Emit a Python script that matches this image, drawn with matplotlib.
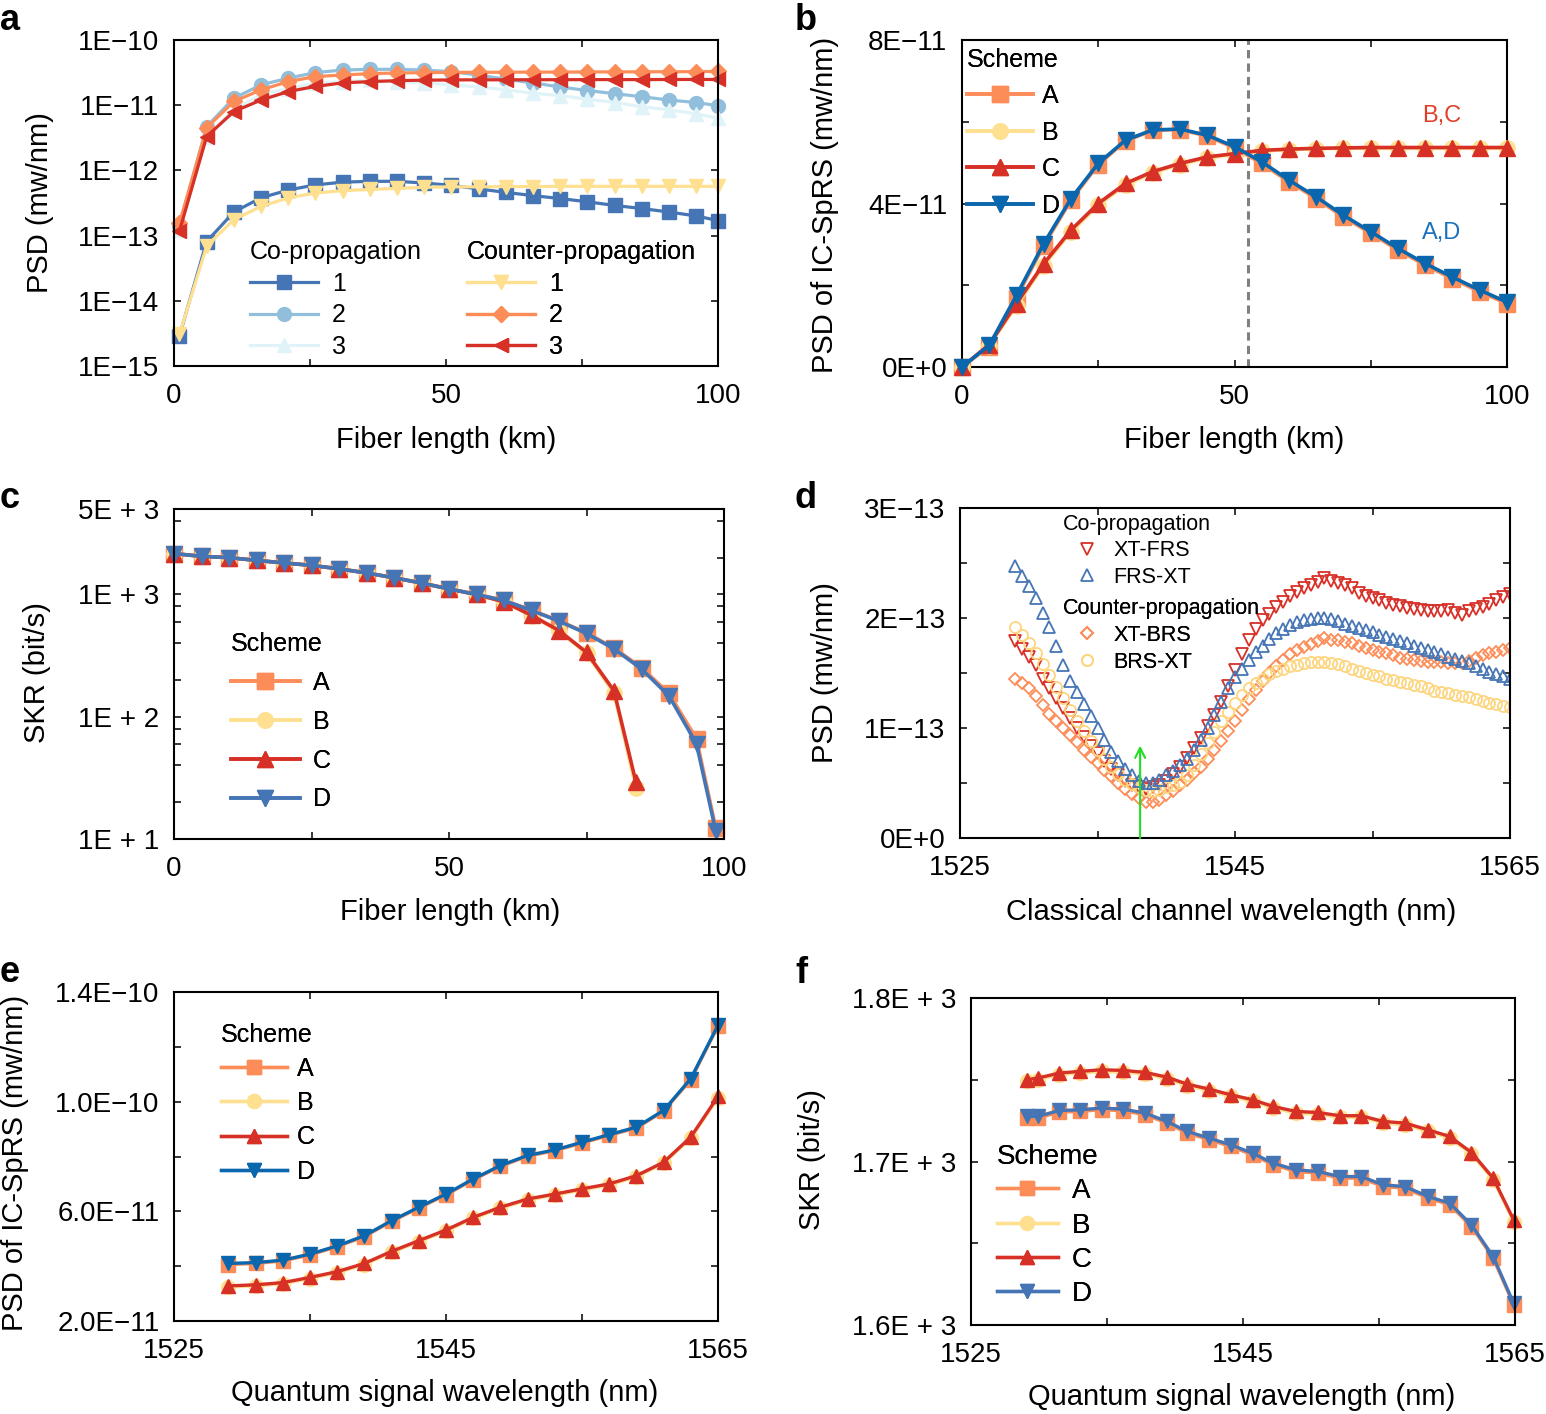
import numpy as np
import matplotlib
matplotlib.use('Agg')
import matplotlib.pyplot as plt
from matplotlib.lines import Line2D
from matplotlib.ticker import FixedLocator, NullLocator, NullFormatter

plt.rcParams['font.family'] = ['Liberation Sans', 'DejaVu Sans']

# ---------------- data ----------------
# panel a (fiber length km, PSD mw/nm)
a_x = [1, 6, 11, 16, 21, 26, 31, 36, 41, 46, 51, 56, 61, 66, 71, 76, 81, 86, 91, 96, 100]
a_co1 = [2.9e-15, 8.1e-14, 2.3e-13, 3.8e-13, 5.0e-13, 6.0e-13, 6.6e-13, 6.8e-13, 6.8e-13, 6.4e-13, 5.9e-13,
         5.2e-13, 4.6e-13, 4.1e-13, 3.7e-13, 3.3e-13, 2.9e-13, 2.6e-13, 2.3e-13, 2.0e-13, 1.7e-13]
a_co2 = [1.4e-13, 4.7e-12, 1.28e-11, 2.05e-11, 2.6e-11, 3.16e-11, 3.46e-11, 3.55e-11, 3.55e-11, 3.46e-11, 3.27e-11,
         2.9e-11, 2.5e-11, 2.2e-11, 1.9e-11, 1.68e-11, 1.5e-11, 1.35e-11, 1.2e-11, 1.1e-11, 9.8e-12]
a_co3 = [1.23e-13, 3.3e-12, 8.5e-12, 1.45e-11, 1.8e-11, 2.2e-11, 2.3e-11, 2.4e-11, 2.3e-11, 2.2e-11, 2.05e-11,
         1.9e-11, 1.72e-11, 1.53e-11, 1.4e-11, 1.24e-11, 1.1e-11, 9.5e-12, 8.5e-12, 7.4e-12, 6.3e-12]
a_ct1 = [3.05e-15, 6.9e-14, 1.76e-13, 2.8e-13, 3.8e-13, 4.5e-13, 4.9e-13, 5.1e-13, 5.3e-13, 5.5e-13, 5.6e-13,
         5.6e-13, 5.65e-13, 5.65e-13, 5.7e-13, 5.7e-13, 5.7e-13, 5.7e-13, 5.7e-13, 5.7e-13, 5.7e-13]
a_ct2 = [1.55e-13, 4.5e-12, 1.14e-11, 1.72e-11, 2.3e-11, 2.75e-11, 2.9e-11, 3.05e-11, 3.12e-11, 3.16e-11, 3.18e-11,
         3.2e-11, 3.2e-11, 3.22e-11, 3.22e-11, 3.24e-11, 3.24e-11, 3.25e-11, 3.26e-11, 3.27e-11, 3.3e-11]
a_ct3 = [1.17e-13, 3.3e-12, 8.0e-12, 1.2e-11, 1.62e-11, 1.94e-11, 2.2e-11, 2.3e-11, 2.38e-11, 2.42e-11, 2.44e-11,
         2.45e-11, 2.45e-11, 2.46e-11, 2.46e-11, 2.47e-11, 2.47e-11, 2.47e-11, 2.48e-11, 2.48e-11, 2.48e-11]

# panel b (fiber length km, PSD of IC-SpRS)
b_x = [0, 5, 10, 15, 20, 25, 30, 35, 40, 45, 50, 55, 60, 65, 70, 75, 80, 85, 90, 95, 100]
b_A = [0, 0.50e-11, 1.70e-11, 2.97e-11, 4.08e-11, 4.95e-11, 5.53e-11, 5.79e-11, 5.81e-11, 5.65e-11, 5.36e-11,
       4.98e-11, 4.53e-11, 4.12e-11, 3.67e-11, 3.27e-11, 2.86e-11, 2.49e-11, 2.16e-11, 1.84e-11, 1.55e-11]
b_B = [0, 0.52e-11, 1.50e-11, 2.48e-11, 3.30e-11, 3.96e-11, 4.45e-11, 4.75e-11, 4.95e-11, 5.11e-11, 5.20e-11,
       5.28e-11, 5.32e-11, 5.34e-11, 5.35e-11, 5.35e-11, 5.35e-11, 5.35e-11, 5.35e-11, 5.35e-11, 5.35e-11]
b_C = [0, 0.55e-11, 1.55e-11, 2.53e-11, 3.35e-11, 4.00e-11, 4.49e-11, 4.78e-11, 4.98e-11, 5.14e-11, 5.22e-11,
       5.30e-11, 5.33e-11, 5.35e-11, 5.36e-11, 5.37e-11, 5.37e-11, 5.37e-11, 5.37e-11, 5.37e-11, 5.37e-11]
b_D = [0, 0.53e-11, 1.755e-11, 3.02e-11, 4.12e-11, 4.98e-11, 5.55e-11, 5.80e-11, 5.82e-11, 5.67e-11, 5.39e-11,
       5.02e-11, 4.57e-11, 4.16e-11, 3.71e-11, 3.31e-11, 2.90e-11, 2.53e-11, 2.20e-11, 1.88e-11, 1.59e-11]
b_cross = 52.5

# panel c (fiber length km, SKR bit/s)
c_xAD = [0, 5, 10, 15, 20, 25, 30, 35, 40, 45, 50, 55, 60, 65, 70, 75, 80, 85, 90, 95, 98.5]
c_A = [2160, 2050, 2000, 1900, 1810, 1730, 1620, 1500, 1370, 1240, 1110, 1000, 895, 745, 610, 485, 365, 252, 155, 66, 12.3]
c_D = [2160, 2050, 2000, 1900, 1810, 1730, 1620, 1500, 1370, 1240, 1110, 1000, 893, 740, 605, 480, 359, 246, 148, 60, 11.6]
c_xBC = [0, 5, 10, 15, 20, 25, 30, 35, 40, 45, 50, 55, 60, 65, 70, 75, 80, 84]
c_B = [2160, 2050, 2000, 1900, 1810, 1730, 1620, 1500, 1370, 1240, 1110, 1000, 865, 668, 500, 330, 155, 26]
c_C = [2160, 2050, 2000, 1900, 1810, 1730, 1620, 1500, 1370, 1240, 1110, 1000, 870, 675, 507, 336, 163, 29]

# panel d (classical channel wavelength nm, PSD in units of 1E-13 mw/nm)
d_x = [1529.0 + 0.5 * i for i in range(73)]
d_xt_frs = [1.79, 1.72, 1.65, 1.57, 1.45, 1.36, 1.27, 1.18, 1.09, 1.00, 0.92, 0.84, 0.77, 0.70, 0.63, 0.57, 0.52,
            0.48, 0.46, 0.45, 0.46, 0.48, 0.52, 0.58, 0.65, 0.73, 0.82, 0.91, 1.02, 1.12, 1.24, 1.38, 1.53, 1.67,
            1.80, 1.90, 1.98, 2.04, 2.10, 2.15, 2.20, 2.24, 2.27, 2.30, 2.33, 2.36, 2.34, 2.32, 2.30, 2.27, 2.23,
            2.20, 2.18, 2.16, 2.14, 2.12, 2.11, 2.09, 2.08, 2.07, 2.06, 2.06, 2.06, 2.07, 2.05, 2.03, 2.06, 2.08,
            2.10, 2.13, 2.16, 2.19, 2.22]
d_frs_xt = [2.47, 2.38, 2.29, 2.18, 2.05, 1.92, 1.75, 1.57, 1.43, 1.33, 1.22, 1.11, 1.00, 0.89, 0.78, 0.70, 0.63,
            0.57, 0.52, 0.50, 0.50, 0.53, 0.57, 0.61, 0.66, 0.72, 0.80, 0.89, 1.00, 1.12, 1.24, 1.36, 1.46, 1.54,
            1.62, 1.69, 1.75, 1.81, 1.86, 1.90, 1.94, 1.96, 1.98, 1.99, 2.00, 2.00, 1.99, 1.97, 1.95, 1.93, 1.91,
            1.89, 1.87, 1.85, 1.83, 1.81, 1.79, 1.77, 1.75, 1.73, 1.71, 1.69, 1.67, 1.65, 1.63, 1.61, 1.59, 1.56,
            1.54, 1.51, 1.49, 1.47, 1.45]
d_xt_brs = [1.45, 1.41, 1.36, 1.29, 1.21, 1.13, 1.06, 1.00, 0.94, 0.87, 0.80, 0.74, 0.68, 0.62, 0.56, 0.50, 0.45,
            0.40, 0.36, 0.33, 0.33, 0.35, 0.39, 0.43, 0.48, 0.53, 0.59, 0.65, 0.72, 0.80, 0.88, 0.97, 1.06, 1.16,
            1.26, 1.35, 1.43, 1.50, 1.56, 1.62, 1.67, 1.71, 1.74, 1.76, 1.79, 1.82, 1.80, 1.80, 1.78, 1.77, 1.75,
            1.73, 1.71, 1.69, 1.68, 1.66, 1.64, 1.63, 1.62, 1.61, 1.60, 1.60, 1.60, 1.59, 1.59, 1.59, 1.61, 1.64,
            1.66, 1.68, 1.69, 1.71, 1.73]
d_brs_xt = [1.92, 1.85, 1.77, 1.68, 1.58, 1.48, 1.37, 1.27, 1.16, 1.06, 0.97, 0.88, 0.80, 0.72, 0.65, 0.58, 0.53,
            0.49, 0.46, 0.44, 0.43, 0.44, 0.46, 0.48, 0.51, 0.57, 0.66, 0.76, 0.86, 0.96, 1.06, 1.15, 1.23, 1.30,
            1.36, 1.41, 1.45, 1.49, 1.52, 1.54, 1.56, 1.57, 1.59, 1.60, 1.60, 1.60, 1.59, 1.58, 1.56, 1.54, 1.52,
            1.50, 1.48, 1.47, 1.45, 1.44, 1.42, 1.41, 1.39, 1.38, 1.36, 1.34, 1.33, 1.32, 1.30, 1.29, 1.28, 1.26,
            1.25, 1.23, 1.22, 1.20, 1.19]
d_arrow_x = 1538.1
d_arrow_top = 0.84

# panel e (quantum signal wavelength nm, PSD of IC-SpRS)
e_x = [1529, 1531, 1533, 1535, 1537, 1539, 1541, 1543, 1545, 1547, 1549, 1551, 1553, 1555, 1557, 1559, 1561, 1563, 1565]
e_D = [4.10e-11, 4.13e-11, 4.22e-11, 4.44e-11, 4.74e-11, 5.11e-11, 5.66e-11, 6.15e-11, 6.63e-11, 7.18e-11, 7.67e-11,
       8.04e-11, 8.24e-11, 8.52e-11, 8.80e-11, 9.07e-11, 9.68e-11, 10.84e-11, 12.79e-11]
e_A = [4.06e-11, 4.10e-11, 4.19e-11, 4.41e-11, 4.71e-11, 5.08e-11, 5.63e-11, 6.12e-11, 6.60e-11, 7.15e-11, 7.64e-11,
       8.01e-11, 8.21e-11, 8.49e-11, 8.77e-11, 9.04e-11, 9.65e-11, 10.80e-11, 12.75e-11]
e_C = [3.28e-11, 3.32e-11, 3.40e-11, 3.59e-11, 3.80e-11, 4.10e-11, 4.54e-11, 4.93e-11, 5.32e-11, 5.78e-11, 6.15e-11,
       6.45e-11, 6.63e-11, 6.82e-11, 7.00e-11, 7.30e-11, 7.79e-11, 8.71e-11, 10.19e-11]
e_B = [3.24e-11, 3.28e-11, 3.36e-11, 3.55e-11, 3.76e-11, 4.06e-11, 4.50e-11, 4.89e-11, 5.28e-11, 5.74e-11, 6.11e-11,
       6.41e-11, 6.59e-11, 6.78e-11, 6.96e-11, 7.26e-11, 7.75e-11, 8.66e-11, 10.14e-11]

# panel f (quantum signal wavelength nm, SKR bit/s)
f_x = [1529.1, 1529.9, 1531.5, 1533.0, 1534.6, 1536.2, 1537.8, 1539.4, 1540.9, 1542.5, 1544.1, 1545.7,
       1547.2, 1548.9, 1550.5, 1552.1, 1553.7, 1555.3, 1556.9, 1558.6, 1560.2, 1561.8, 1563.4, 1564.9]
f_C = [1750, 1751, 1754.1, 1755.1, 1756.1, 1755.7, 1754.5, 1751.6, 1747.3, 1744.3, 1740.8, 1737.8,
       1733.7, 1730.6, 1730, 1728, 1728, 1724.5, 1723.5, 1719.4, 1715.3, 1705.5, 1689.8, 1664.3]
f_B = [1749, 1750, 1753.1, 1754.1, 1755.1, 1754.7, 1753.5, 1750.6, 1746.3, 1743.3, 1739.8, 1736.8,
       1732.7, 1729.6, 1729, 1727, 1727, 1723.5, 1722.5, 1718.4, 1714.3, 1704.5, 1688.8, 1663.3]
f_D = [1727.6, 1727.6, 1731.2, 1731.6, 1732.7, 1732.0, 1729.6, 1724.5, 1718.4, 1714.3, 1710.2, 1705.1,
       1699.0, 1694.9, 1693.9, 1690.8, 1690.8, 1685.7, 1684.7, 1678.6, 1674.5, 1661.2, 1641.8, 1613.3]
f_A = [1726.6, 1726.6, 1730.2, 1730.6, 1731.7, 1731.0, 1728.6, 1723.5, 1717.4, 1713.3, 1709.2, 1704.1,
       1698.0, 1693.9, 1692.9, 1689.8, 1689.8, 1684.7, 1683.7, 1677.6, 1673.5, 1660.2, 1640.8, 1612.3]

# ---------------- colours ----------------
RED = '#d73027'
ORG = '#fc8d59'
YEL = '#fee090'
BLU = '#4575b4'
LBL = '#91bfdb'
VLB = '#e0f3f8'
DBL = '#0b67ad'
GRN = '#22dd22'

W, H = 1546, 1414
fig = plt.figure(figsize=(W / 100, H / 100), dpi=100)


def axes_px(l, r, t, b):
    return fig.add_axes([l / W, 1 - b / H, (r - l) / W, (b - t) / H])


def style(ax):
    for s in ax.spines.values():
        s.set_linewidth(1.5)
    ax.tick_params(which='both', direction='in', top=True, right=True, length=5, width=1.1, labelsize=20)
    ax.tick_params(axis='x', which='both', pad=12.5)
    ax.tick_params(axis='y', which='both', pad=10.5)


def leg(ax, handles, labels, title, anchor, fs=18, lsp=0.2, hl=2.7, htp=0.5):
    lg = ax.legend(handles, labels, title=title, loc='upper left', bbox_to_anchor=anchor, frameon=False,
                   fontsize=fs, title_fontsize=fs, labelspacing=lsp, handlelength=hl, handletextpad=htp,
                   borderpad=0, borderaxespad=0, alignment='left', numpoints=1)
    ax.add_artist(lg)
    return lg


def h(color, marker, ms, lw=2.3, mfc=None):
    return Line2D([], [], color=color, lw=lw, marker=marker, ms=ms, mfc=color if mfc is None else mfc, mec=color)


def flabel(x, y, s, rot=0, size=21, **kw):
    fig.text(x / W, 1 - y / H, s, rotation=rot, ha='center', va='center', fontsize=size, **kw)


def letter(x, y, s):
    fig.text(x / W, 1 - y / H, s, ha='left', va='baseline', fontsize=26, fontweight='bold')


# ---------------- panel a ----------------
ax = axes_px(174, 718, 40, 366)
style(ax)
ax.set_yscale('log')
spec_a = [(a_co1, BLU, 's'), (a_co2, LBL, 'o'), (a_co3, VLB, '^'),
          (a_ct1, YEL, 'v'), (a_ct2, ORG, 'D'), (a_ct3, RED, '<')]
for ys, c, m in spec_a:
    ms = 8 if m == 'D' else 10
    ax.plot(a_x, ys, color=c, lw=2.3, marker=m, ms=ms, mfc=c, mec=c, clip_on=False)
ax.set_xlim(0, 100)
ax.set_ylim(1e-15, 1e-10)
ax.set_xticks([0, 50, 100], ['0', '50', '100'])
ax.xaxis.set_minor_locator(FixedLocator([25, 75]))
ax.set_yticks([1e-15, 1e-14, 1e-13, 1e-12, 1e-11, 1e-10],
              ['1E\u221215', '1E\u221214', '1E\u221213', '1E\u221212', '1E\u221211', '1E\u221210'])
ax.yaxis.set_minor_locator(NullLocator())
leg(ax, [h(BLU, 's', 10), h(LBL, 'o', 10), h(VLB, '^', 10)], ['1', '2', '3'], 'Co-propagation',
    (0.14, 0.385), lsp=0.3, hl=2.72, htp=0.56)
leg(ax, [h(YEL, 'v', 10), h(ORG, 'D', 8), h(RED, '<', 10)], ['1', '2', '3'], 'Counter-propagation',
    (0.5386, 0.385), lsp=0.3, hl=2.72, htp=0.56)

# ---------------- panel b ----------------
ax = axes_px(962, 1507, 40, 367)
style(ax)
ax.axvline(b_cross, color='#808080', lw=2.2, ls=(0, (2.7, 1.7)), zorder=1)
for ys, c, m in [(b_A, ORG, 's'), (b_B, YEL, 'o'), (b_C, RED, '^'), (b_D, DBL, 'v')]:
    ax.plot(b_x, ys, color=c, lw=2.6, marker=m, ms=11, mfc=c, mec=c, clip_on=False, zorder=3)
ax.set_xlim(0, 100)
ax.set_ylim(0, 8e-11)
ax.set_xticks([0, 50, 100], ['0', '50', '100'])
ax.xaxis.set_minor_locator(FixedLocator([25, 75]))
ax.set_yticks([0, 4e-11, 8e-11], ['0E+0', '4E\u221211', '8E\u221211'])
ax.yaxis.set_minor_locator(FixedLocator([2e-11, 6e-11]))
ax.text(88, 6.14e-11, 'B,C', color='#e0402a', fontsize=17, ha='center', va='center')
ax.text(88, 3.28e-11, 'A,D', color='#1a72bd', fontsize=17, ha='center', va='center')
leg(ax, [h(ORG, 's', 11, 2.6), h(YEL, 'o', 11, 2.6), h(RED, '^', 11, 2.6), h(DBL, 'v', 11, 2.6)],
    ['A', 'B', 'C', 'D'], 'Scheme', (0.009, 0.977), lsp=0.5, hl=2.64, htp=0.36)

# ---------------- panel c ----------------
ax = axes_px(174, 724, 509, 839)
style(ax)
ax.set_yscale('log')
ax.plot(c_xAD, c_A, color=ORG, lw=2.6, marker='s', ms=11, mfc=ORG, mec=ORG, clip_on=False)
ax.plot(c_xBC, c_B, color=YEL, lw=2.6, marker='o', ms=11, mfc=YEL, mec=YEL, clip_on=False)
ax.plot(c_xBC, c_C, color=RED, lw=2.6, marker='^', ms=12, mfc=RED, mec=RED, clip_on=False)
ax.plot(c_xAD, c_D, color=BLU, lw=2.6, marker='v', ms=12, mfc=BLU, mec=BLU, clip_on=False)
ax.set_xlim(0, 100)
ax.set_ylim(10, 5000)
ax.set_xticks([0, 50, 100], ['0', '50', '100'])
ax.xaxis.set_minor_locator(FixedLocator([25, 75]))
ax.set_yticks([10, 100, 1000, 5000], ['1E + 1', '1E + 2', '1E + 3', '5E + 3'])
ax.yaxis.set_minor_locator(FixedLocator([20, 40, 60, 80, 200, 400, 600, 800, 2000, 4000]))
ax.yaxis.set_minor_formatter(NullFormatter())
leg(ax, [h(ORG, 's', 11, 2.6), h(YEL, 'o', 11, 2.6), h(RED, '^', 12, 2.6), h(BLU, 'v', 12, 2.6)],
    ['A', 'B', 'C', 'D'], 'Scheme', (0.1036, 0.626), lsp=0.59, hl=2.76, htp=0.52)

# ---------------- panel d ----------------
ax = axes_px(960, 1510, 508, 838)
style(ax)
sc = 1e-13
ax.plot(d_x, np.array(d_xt_frs) * sc, ls='none', marker='v', ms=8, mfc='none', mec=RED, mew=1.3)
ax.plot(d_x, np.array(d_xt_brs) * sc, ls='none', marker='D', ms=6.5, mfc='none', mec=ORG, mew=1.3)
ax.plot(d_x, np.array(d_brs_xt) * sc, ls='none', marker='o', ms=8, mfc='none', mec='#fdd57e', mew=1.3)
ax.plot(d_x, np.array(d_frs_xt) * sc, ls='none', marker='^', ms=8, mfc='none', mec=BLU, mew=1.3)
ax.annotate('', xy=(d_arrow_x, d_arrow_top * sc), xytext=(d_arrow_x, 0),
            arrowprops=dict(arrowstyle='->', color=GRN, lw=1.5, mutation_scale=18, shrinkA=0, shrinkB=0))
ax.set_xlim(1525, 1565)
ax.set_ylim(0, 3e-13)
ax.set_xticks([1525, 1545, 1565], ['1525', '1545', '1565'])
ax.xaxis.set_minor_locator(FixedLocator([1535, 1555]))
ax.set_yticks([0, 1e-13, 2e-13, 3e-13], ['0E+0', '1E\u221213', '2E\u221213', '3E\u221213'])
ax.yaxis.set_minor_locator(FixedLocator([0.5e-13, 1.5e-13, 2.5e-13]))


def hm(c, m, ms=8):
    return Line2D([], [], ls='none', marker=m, ms=ms, mfc='none', mec=c, mew=1.3)


leg(ax, [hm(RED, 'v'), hm(BLU, '^')], ['XT-FRS', 'FRS-XT'], 'Co-propagation', (0.1873, 0.983),
    fs=15.5, lsp=0.26, hl=2.23, htp=0.1)
leg(ax, [hm(ORG, 'D', 6.5), hm('#fdd57e', 'o')], ['XT-BRS', 'BRS-XT'], 'Counter-propagation', (0.1873, 0.726),
    fs=15.5, lsp=0.26, hl=2.23, htp=0.1)

# ---------------- panel e ----------------
ax = axes_px(174, 718, 992, 1321)
style(ax)
for xs, ys, c, m in [(e_x, e_A, ORG, 's'), (e_x, e_B, YEL, 'o'), (e_x, e_C, RED, '^'), (e_x, e_D, DBL, 'v')]:
    ax.plot(xs, ys, color=c, lw=2.4, marker=m, ms=10, mfc=c, mec=c, clip_on=False)
ax.set_xlim(1525, 1565)
ax.set_ylim(2e-11, 1.4e-10)
ax.set_xticks([1525, 1545, 1565], ['1525', '1545', '1565'])
ax.xaxis.set_minor_locator(FixedLocator([1535, 1555]))
ax.set_yticks([2e-11, 6e-11, 1e-10, 1.4e-10], ['2.0E\u221211', '6.0E\u221211', '1.0E\u221210', '1.4E\u221210'])
ax.yaxis.set_minor_locator(FixedLocator([4e-11, 8e-11, 1.2e-10]))
leg(ax, [h(ORG, 's', 10, 2.4), h(YEL, 'o', 10, 2.4), h(RED, '^', 10, 2.4), h(DBL, 'v', 10, 2.4)],
    ['A', 'B', 'C', 'D'], 'Scheme', (0.0864, 0.907), lsp=0.41, hl=2.64, htp=0.4)

# ---------------- panel f ----------------
ax = axes_px(971, 1515, 998, 1325)
style(ax)
for ys, c, m in [(f_A, ORG, 's'), (f_B, YEL, 'o'), (f_C, RED, '^'), (f_D, BLU, 'v')]:
    ax.plot(f_x, ys, color=c, lw=2.4, marker=m, ms=10, mfc=c, mec=c, clip_on=False)
ax.set_xlim(1525, 1565)
ax.set_ylim(1600, 1800)
ax.set_xticks([1525, 1545, 1565], ['1525', '1545', '1565'])
ax.xaxis.set_minor_locator(FixedLocator([1535, 1555]))
ax.set_yticks([1600, 1700, 1800], ['1.6E + 3', '1.7E + 3', '1.8E + 3'])
ax.yaxis.set_minor_locator(FixedLocator([1650, 1750]))
leg(ax, [h(ORG, 's', 10, 2.4), h(YEL, 'o', 10, 2.4), h(RED, '^', 10, 2.4), h(BLU, 'v', 10, 2.4)],
    ['A', 'B', 'C', 'D'], 'Scheme', (0.0478, 0.554), fs=20, lsp=0.3, hl=2.19, htp=0.5)

# ---------------- labels ----------------
flabel(40, 203, 'PSD (mw/nm)', rot=90)
flabel(825, 205, 'PSD of IC-SpRS (mw/nm)', rot=90)
flabel(37, 673, 'SKR (bit/s)', rot=90)
flabel(825, 673, 'PSD (mw/nm)', rot=90)
flabel(15, 1163, 'PSD of IC-SpRS (mw/nm)', rot=90)
flabel(812, 1160, 'SKR (bit/s)', rot=90)
flabel(446, 440, 'Fiber length (km)')
flabel(1234, 440, 'Fiber length (km)')
flabel(450, 912, 'Fiber length (km)')
flabel(1231, 912, 'Classical channel wavelength (nm)')
flabel(445, 1393, 'Quantum signal wavelength (nm)')
flabel(1242, 1397, 'Quantum signal wavelength (nm)')

letter(0, 30, 'a')
letter(795, 30, 'b')
letter(0, 508, 'c')
letter(795, 508, 'd')
letter(0, 982, 'e')
letter(795, 983, 'f')

fig.savefig('out.png', dpi=100)
